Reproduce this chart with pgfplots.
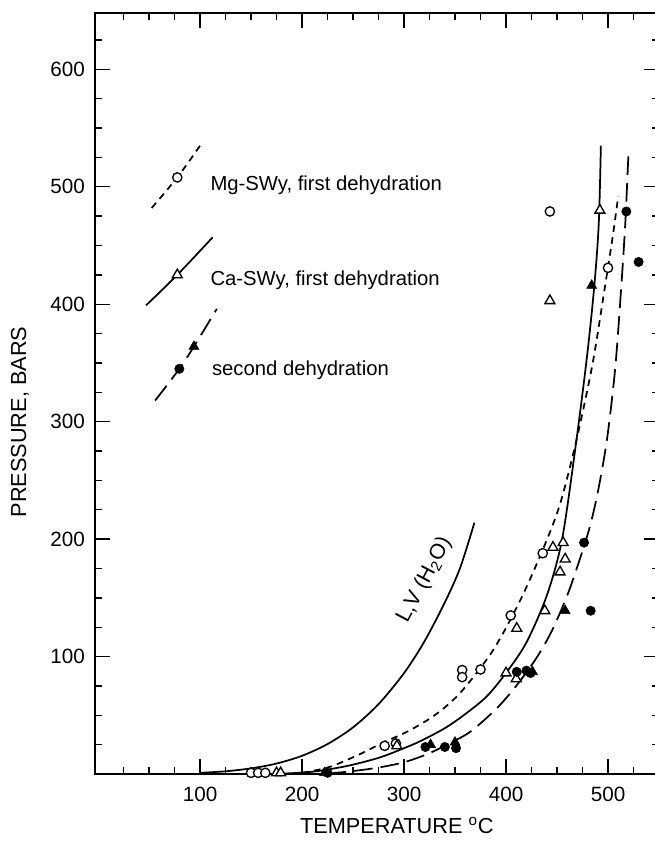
\documentclass[border=0pt]{standalone}
\usepackage{fontspec}
\setmainfont{Liberation Sans}
\usepackage{pgfplots}
\pgfplotsset{compat=1.18}
\begin{document}
\begin{tikzpicture}
\begin{axis}[
  name=ax,
  scale only axis,
  width=423pt, height=570.75pt,
  xmin=-3, xmax=550, ymin=0, ymax=648,
  axis line style={line width=1.1pt},
  xtick={100,200,300,400,500},
  ytick={100,200,300,400,500,600},
  minor xtick={25,50,75,125,150,175,225,250,275,325,350,375,425,450,475,525},
  minor ytick={25,50,75,125,150,175,225,250,275,325,350,375,425,450,475,525,550,575,625},
  tick align=inside,
  major tick length=11pt, minor tick length=5pt,
  tick style={black, line width=1pt},
  tick label style={font=\fontsize{15.5}{18}\selectfont},
  /pgf/number format/assume math mode=true,
  scaled ticks=false,
  yticklabel style={xshift=-4pt},
  xticklabel style={yshift=-6pt},
  xlabel={TEMPERATURE \textsuperscript{o}C},
  ylabel={PRESSURE, BARS},
  label style={font=\fontsize{16.3}{19}\selectfont},
  xlabel style={at={(axis description cs:0.535,-0.068)}, anchor=center},
  ylabel style={at={(axis description cs:-0.133,0.4625)}, anchor=center},
  clip=false,
]
% liquid-vapour curve of water
\addplot[black, line width=1.3pt, smooth] coordinates {
  (100,1.0) (125,2.3) (150,4.8) (175,8.9) (200,15.5) (225,25.5) (250,39.7)
  (275,59.5) (300,85.9) (320,112.9) (340,146.1) (355,175.5) (369,214)};
% Mg-SWy first dehydration (short dashes)
\addplot[black, line width=1.3pt, smooth, dash pattern=on 5pt off 4pt] coordinates {
  (200,1) (227,6) (257,17) (280,27) (303,36) (330,50) (355,69) (387,105)
  (414,148) (437,193) (453,230) (469,284) (485,350) (497,415) (505,460) (510,492)};
% Ca-SWy first dehydration (solid)
\addplot[black, line width=1.3pt, smooth] coordinates {
  (180,0.3) (211,2) (245,7) (276,14) (300,22) (316,28) (340,39) (360,51)
  (381,66) (400,86) (420,112) (440,152) (455,200) (469,284) (480,360)
  (487,420) (491,470) (493,535)};
% second dehydration (long dashes)
\addplot[black, line width=1.3pt, smooth, dash pattern=on 14pt off 6pt] coordinates {
  (225,0.3) (250,2.5) (275,5.5) (300,10) (323,17) (342,25) (365,36) (391,56)
  (410,75) (430,99) (445,122) (460,152) (472,182) (482,210) (490,240)
  (499,285) (507,345) (513,415) (517,470) (520,528)};
% key curves
\addplot[black, line width=1.3pt, smooth, dash pattern=on 5pt off 4pt] coordinates {
  (52.6,482) (77.7,508) (100,535)};
\addplot[black, line width=1.3pt, smooth] coordinates {
  (47,399) (77.7,425) (112.4,457)};
\addplot[black, line width=1.3pt, smooth, dash pattern=on 14pt off 6pt] coordinates {
  (56,318) (79.7,345) (94,364) (116.4,396)};
% open circles: Mg-SWy
\addplot[only marks, mark=*, mark size=3.5pt, mark options={solid, fill=white, draw=black, line width=1pt}] coordinates {
  (150,1) (157,1) (164,1) (281,24) (292,26) (357,88.5) (357,82.5) (375,89)
  (404.6,135) (436,188) (443,479) (500,431) (77.7,508)};
% open triangles: Ca-SWy
\addplot[only marks, mark=triangle*, mark size=4.3pt, mark options={solid, fill=white, draw=black, line width=1pt}] coordinates {
  (175,1) (179,1) (293,24) (400,86) (410,81) (410.5,124) (438,139) (446,193)
  (456,197) (458,183) (453,172) (443,403) (492,480) (77.7,425)};
% filled circles: second dehydration
\addplot[only marks, mark=*, mark size=3.5pt, mark options={solid, fill=black, draw=black}] coordinates {
  (225,1) (321,23) (340,23) (351,22) (410.5,87) (420,88) (424,86)
  (476.5,197) (483,139) (518,479) (530,436) (79.7,345)};
% filled triangles: second dehydration
\addplot[only marks, mark=triangle*, mark size=4.3pt, mark options={solid, fill=black, draw=black}] coordinates {
  (222,1) (326,25) (350,27) (426,87) (458,139) (484,416) (94,364)};
\node[rotate=62, font=\fontsize{16}{19}\selectfont] at (axis cs:320,165) {L,V (H\textsubscript{2}O)};
\node[anchor=base west, inner sep=0pt, font=\fontsize{15.2}{18}\selectfont] at (axis cs:110,497) {Mg-SWy, first dehydration};
\node[anchor=base west, inner sep=0pt, font=\fontsize{15.2}{18}\selectfont] at (axis cs:110,415.8) {Ca-SWy, first dehydration};
\node[anchor=base west, inner sep=0pt, font=\fontsize{15.2}{18}\selectfont] at (axis cs:111.5,339.3) {second dehydration};
\end{axis}
\pgfresetboundingbox
\path ([shift={(-71.25pt,-50.25pt)}]ax.south west) rectangle ([shift={(419.25pt,580.5pt)}]ax.south west);
\end{tikzpicture}
\end{document}
